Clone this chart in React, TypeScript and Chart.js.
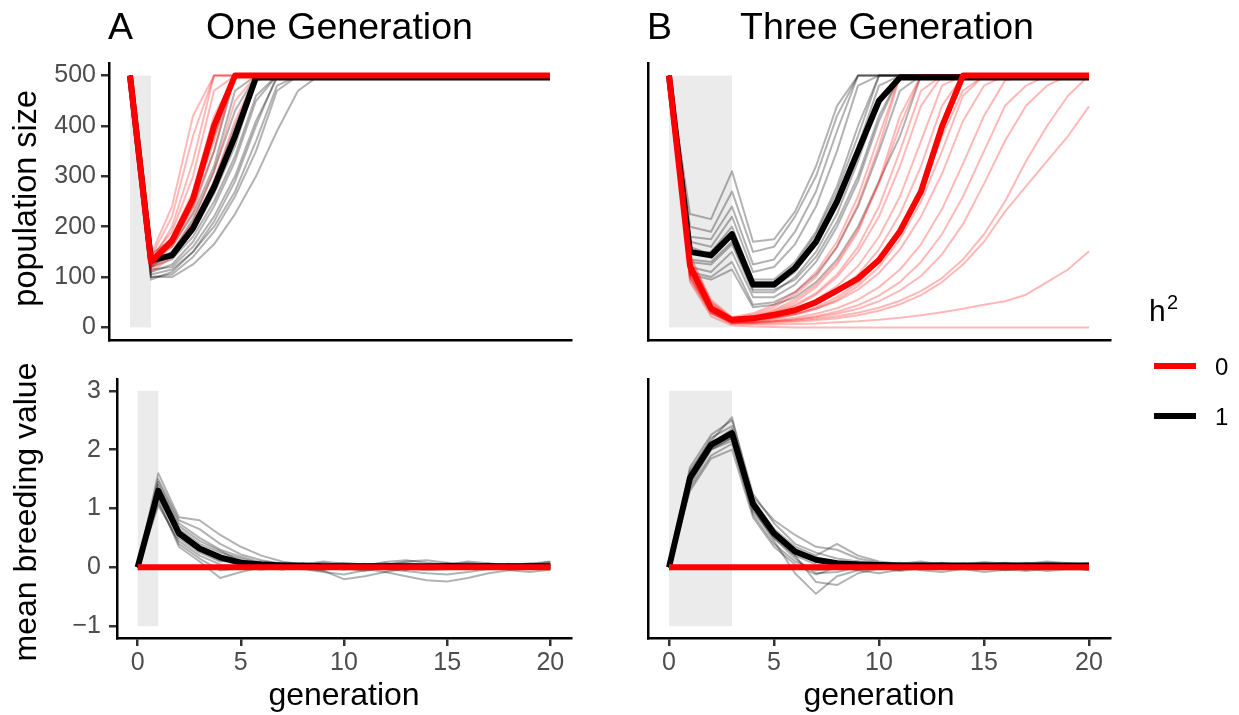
import React, { useEffect, useRef } from "react";
import { Chart, registerables } from "chart.js";

Chart.register(...registerables);

// ---------------- data ----------------
const generations = [0, 1, 2, 3, 4, 5, 6, 7, 8, 9, 10, 11, 12, 13, 14, 15, 16, 17, 18, 19, 20];
const xTickValues = [0, 5, 10, 15, 20];
const popTickValues = [0, 100, 200, 300, 400, 500];
const bvTickValues = [-1, 0, 1, 2, 3];
const shadeOneGeneration = [0, 1];
const shadeThreeGeneration = [0, 3];
const popShadeRange = [0, 500];
const bvShadeRange = [-1, 3];

// Panel A, population size, h2 = 1 (black replicates)
const popOneGenH1Reps = [
  [500, 120, 150, 215, 310, 430, 500, 500, 500, 500, 500, 500, 500, 500, 500, 500, 500, 500, 500, 500, 500],
  [500, 110, 125, 170, 240, 330, 450, 500, 500, 500, 500, 500, 500, 500, 500, 500, 500, 500, 500, 500, 500],
  [500, 140, 160, 225, 320, 470, 500, 500, 500, 500, 500, 500, 500, 500, 500, 500, 500, 500, 500, 500, 500],
  [500, 100, 105, 140, 190, 260, 350, 470, 500, 500, 500, 500, 500, 500, 500, 500, 500, 500, 500, 500, 500],
  [500, 125, 140, 190, 265, 360, 490, 500, 500, 500, 500, 500, 500, 500, 500, 500, 500, 500, 500, 500, 500],
  [500, 95, 110, 150, 210, 290, 400, 500, 500, 500, 500, 500, 500, 500, 500, 500, 500, 500, 500, 500, 500],
  [500, 135, 165, 240, 350, 500, 500, 500, 500, 500, 500, 500, 500, 500, 500, 500, 500, 500, 500, 500, 500],
  [500, 115, 120, 160, 220, 300, 410, 495, 500, 500, 500, 500, 500, 500, 500, 500, 500, 500, 500, 500, 500],
  [500, 130, 150, 205, 290, 400, 500, 500, 500, 500, 500, 500, 500, 500, 500, 500, 500, 500, 500, 500, 500],
  [500, 105, 115, 150, 200, 270, 370, 480, 500, 500, 500, 500, 500, 500, 500, 500, 500, 500, 500, 500, 500],
  [500, 145, 175, 260, 380, 500, 500, 500, 500, 500, 500, 500, 500, 500, 500, 500, 500, 500, 500, 500, 500],
  [500, 120, 135, 180, 250, 340, 460, 500, 500, 500, 500, 500, 500, 500, 500, 500, 500, 500, 500, 500, 500],
  [500, 100, 100, 125, 165, 225, 300, 390, 470, 500, 500, 500, 500, 500, 500, 500, 500, 500, 500, 500, 500],
];
const popOneGenH1Mean = [500, 133, 143, 197, 278, 380, 496, 496, 496, 496, 496, 496, 496, 496, 496, 496, 496, 496, 496, 496, 496];

// Panel A, population size, h2 = 0 (red replicates)
const popOneGenH0Reps = [
  [500, 130, 200, 330, 500, 500, 500, 500, 500, 500, 500, 500, 500, 500, 500, 500, 500, 500, 500, 500, 500],
  [500, 125, 165, 240, 380, 500, 500, 500, 500, 500, 500, 500, 500, 500, 500, 500, 500, 500, 500, 500, 500],
  [500, 140, 220, 380, 500, 500, 500, 500, 500, 500, 500, 500, 500, 500, 500, 500, 500, 500, 500, 500, 500],
  [500, 120, 150, 210, 310, 450, 500, 500, 500, 500, 500, 500, 500, 500, 500, 500, 500, 500, 500, 500, 500],
  [500, 135, 180, 270, 420, 500, 500, 500, 500, 500, 500, 500, 500, 500, 500, 500, 500, 500, 500, 500, 500],
  [500, 115, 145, 200, 290, 410, 500, 500, 500, 500, 500, 500, 500, 500, 500, 500, 500, 500, 500, 500, 500],
  [500, 145, 240, 420, 500, 500, 500, 500, 500, 500, 500, 500, 500, 500, 500, 500, 500, 500, 500, 500, 500],
  [500, 125, 160, 230, 350, 500, 500, 500, 500, 500, 500, 500, 500, 500, 500, 500, 500, 500, 500, 500, 500],
  [500, 130, 175, 260, 400, 500, 500, 500, 500, 500, 500, 500, 500, 500, 500, 500, 500, 500, 500, 500, 500],
  [500, 110, 140, 190, 270, 380, 500, 500, 500, 500, 500, 500, 500, 500, 500, 500, 500, 500, 500, 500, 500],
  [500, 140, 190, 300, 470, 500, 500, 500, 500, 500, 500, 500, 500, 500, 500, 500, 500, 500, 500, 500, 500],
  [500, 120, 170, 250, 370, 500, 500, 500, 500, 500, 500, 500, 500, 500, 500, 500, 500, 500, 500, 500, 500],
];
const popOneGenH0Mean = [500, 130, 172, 255, 400, 500, 500, 500, 500, 500, 500, 500, 500, 500, 500, 500, 500, 500, 500, 500, 500];

// Panel B, population size, h2 = 1 (black replicates)
const popThreeGenH1Reps = [
  [500, 150, 140, 190, 90, 90, 125, 185, 270, 380, 500, 500, 500, 500, 500, 500, 500, 500, 500, 500, 500],
  [500, 120, 110, 150, 60, 60, 85, 130, 200, 290, 410, 500, 500, 500, 500, 500, 500, 500, 500, 500, 500],
  [500, 200, 190, 270, 150, 160, 220, 300, 420, 500, 500, 500, 500, 500, 500, 500, 500, 500, 500, 500, 500],
  [500, 170, 160, 220, 110, 120, 165, 240, 350, 480, 500, 500, 500, 500, 500, 500, 500, 500, 500, 500, 500],
  [500, 130, 125, 165, 70, 70, 100, 150, 225, 330, 450, 500, 500, 500, 500, 500, 500, 500, 500, 500, 500],
  [500, 110, 100, 130, 45, 50, 70, 105, 160, 240, 350, 470, 500, 500, 500, 500, 500, 500, 500, 500, 500],
  [500, 180, 175, 240, 125, 135, 190, 270, 390, 500, 500, 500, 500, 500, 500, 500, 500, 500, 500, 500, 500],
  [500, 145, 150, 200, 95, 95, 130, 190, 280, 400, 500, 500, 500, 500, 500, 500, 500, 500, 500, 500, 500],
  [500, 160, 145, 180, 80, 80, 110, 165, 245, 360, 480, 500, 500, 500, 500, 500, 500, 500, 500, 500, 500],
  [500, 225, 215, 310, 170, 175, 230, 320, 440, 500, 500, 500, 500, 500, 500, 500, 500, 500, 500, 500, 500],
  [500, 135, 130, 170, 75, 75, 95, 140, 210, 300, 420, 500, 500, 500, 500, 500, 500, 500, 500, 500, 500],
  [500, 105, 95, 115, 40, 45, 60, 90, 135, 200, 290, 380, 500, 500, 500, 500, 500, 500, 500, 500, 500],
];
const popThreeGenH1Mean = [500, 150, 143, 185, 85, 85, 118, 170, 250, 350, 450, 496, 496, 496, 496, 496, 496, 496, 496, 496, 496];

// Panel B, population size, h2 = 0 (red replicates)
const popThreeGenH0Reps = [
  [500, 135, 55, 20, 28, 45, 70, 110, 170, 260, 380, 500, 500, 500, 500, 500, 500, 500, 500, 500, 500],
  [500, 120, 45, 18, 25, 40, 65, 100, 160, 245, 360, 500, 500, 500, 500, 500, 500, 500, 500, 500, 500],
  [500, 130, 50, 17, 22, 35, 55, 85, 130, 195, 285, 400, 500, 500, 500, 500, 500, 500, 500, 500, 500],
  [500, 110, 40, 15, 20, 32, 50, 80, 125, 190, 290, 420, 500, 500, 500, 500, 500, 500, 500, 500, 500],
  [500, 125, 42, 14, 18, 28, 42, 65, 100, 150, 220, 320, 440, 500, 500, 500, 500, 500, 500, 500, 500],
  [500, 145, 50, 18, 20, 30, 45, 68, 105, 160, 240, 350, 470, 500, 500, 500, 500, 500, 500, 500, 500],
  [500, 115, 38, 13, 16, 24, 36, 55, 82, 122, 180, 260, 370, 480, 500, 500, 500, 500, 500, 500, 500],
  [500, 105, 35, 12, 14, 20, 30, 46, 70, 105, 155, 225, 320, 440, 500, 500, 500, 500, 500, 500, 500],
  [500, 120, 36, 12, 14, 19, 27, 40, 60, 88, 130, 190, 270, 380, 470, 500, 500, 500, 500, 500, 500],
  [500, 100, 30, 10, 12, 17, 25, 37, 55, 82, 120, 175, 250, 350, 460, 500, 500, 500, 500, 500, 500],
  [500, 130, 40, 14, 15, 19, 26, 37, 52, 75, 108, 155, 220, 305, 410, 480, 500, 500, 500, 500, 500],
  [500, 110, 32, 10, 11, 14, 19, 27, 38, 55, 80, 115, 165, 235, 325, 420, 490, 500, 500, 500, 500],
  [500, 95, 28, 9, 10, 12, 16, 22, 31, 44, 63, 90, 130, 185, 260, 350, 440, 480, 500, 500, 500],
  [500, 125, 34, 10, 10, 12, 15, 20, 27, 37, 52, 73, 102, 145, 205, 285, 370, 440, 480, 500, 500],
  [500, 105, 30, 8, 8, 9, 11, 14, 18, 24, 33, 46, 64, 90, 125, 170, 230, 280, 330, 380, 439],
  [500, 100, 28, 7, 6, 6, 7, 8, 10, 12, 15, 19, 24, 30, 37, 45, 52, 65, 90, 115, 151],
  [500, 90, 22, 4, 2, 1, 0, 0, 0, 0, 0, 0, 0, 0, 0, 0, 0, 0, 0, 0, 0],
  [500, 115, 33, 9, 9, 11, 13, 17, 22, 29, 39, 53, 72, 98, 135, 185, 250, 330, 400, 460, 500],
];
const popThreeGenH0Mean = [500, 122, 38, 15, 18, 25, 34, 50, 73, 97, 134, 191, 270, 399, 500, 500, 500, 500, 500, 500, 500];

// Panel A, mean breeding value, h2 = 1
const bvOneGenH1Reps = [
  [0, 1.25, 0.55, 0.3, 0.15, 0.05, 0.02, 0.05, 0.0, -0.05, 0.02, 0.06, 0.03, -0.02, 0.04, 0.07, 0.02, 0.0, 0.05, 0.03, 0.01],
  [0, 1.45, 0.75, 0.5, 0.3, 0.18, 0.08, 0.02, 0.06, 0.01, -0.04, 0.0, 0.05, 0.08, 0.03, -0.02, 0.01, 0.06, 0.02, 0.04, 0.07],
  [0, 1.1, 0.4, 0.15, -0.05, -0.02, 0.03, -0.04, 0.02, 0.05, -0.02, -0.06, 0.0, 0.04, -0.03, 0.02, 0.05, -0.01, 0.03, 0.0, -0.03],
  [0, 1.6, 0.85, 0.8, 0.55, 0.35, 0.2, 0.1, 0.05, 0.08, 0.03, 0.0, 0.04, 0.1, 0.12, 0.08, 0.04, 0.06, 0.02, 0.05, 0.09],
  [0, 1.2, 0.5, 0.25, 0.1, 0.12, 0.04, 0.0, -0.03, -0.08, -0.12, -0.05, 0.0, -0.04, 0.02, 0.0, -0.02, 0.03, -0.01, 0.02, -0.02],
  [0, 1.35, 0.6, 0.35, 0.2, 0.08, 0.1, 0.06, 0.03, 0.0, 0.05, 0.02, -0.03, -0.06, -0.1, -0.12, -0.08, -0.03, 0.0, -0.02, 0.03],
  [0, 1.15, 0.35, 0.1, -0.18, -0.08, 0.0, 0.05, 0.02, -0.03, 0.0, 0.04, 0.07, 0.03, 0.0, 0.05, 0.08, 0.04, 0.06, 0.02, 0.05],
  [0, 1.5, 0.8, 0.65, 0.4, 0.22, 0.12, 0.06, 0.04, 0.02, -0.02, 0.01, 0.03, 0.0, 0.02, 0.06, 0.03, 0.0, -0.02, 0.01, 0.04],
  [0, 1.3, 0.65, 0.4, 0.25, 0.15, 0.06, 0.03, -0.02, -0.06, -0.2, -0.15, -0.08, -0.02, -0.05, -0.03, 0.0, 0.02, -0.04, -0.02, 0.0],
  [0, 1.05, 0.45, 0.2, 0.05, 0.0, -0.04, 0.02, 0.06, 0.04, 0.08, 0.05, 0.02, 0.0, 0.04, 0.02, -0.02, 0.01, 0.04, 0.07, 0.03],
  [0, 1.4, 0.7, 0.45, 0.28, 0.1, 0.02, 0.08, 0.05, 0.1, 0.06, 0.03, 0.09, 0.12, 0.08, 0.05, 0.1, 0.07, 0.03, 0.06, 0.1],
  [0, 1.25, 0.58, 0.28, 0.12, 0.04, 0.0, -0.02, 0.01, -0.01, 0.02, -0.03, -0.08, -0.15, -0.22, -0.24, -0.18, -0.1, -0.05, -0.08, -0.04],
];
const bvOneGenH1Mean = [0, 1.3, 0.58, 0.32, 0.17, 0.08, 0.05, 0.03, 0.03, 0.02, 0.02, 0.02, 0.02, 0.02, 0.02, 0.02, 0.02, 0.02, 0.02, 0.02, 0.02];

// Panel B, mean breeding value, h2 = 1
const bvThreeGenH1Reps = [
  [0, 1.5, 2.05, 2.25, 1.05, 0.55, 0.25, 0.1, 0.05, 0.02, 0.06, 0.03, 0.0, 0.04, 0.02, 0.05, 0.01, 0.03, 0.06, 0.02, 0.04],
  [0, 1.7, 2.25, 2.5, 1.25, 0.75, 0.4, 0.25, 0.15, 0.1, 0.05, 0.08, 0.04, 0.02, 0.06, 0.03, 0.08, 0.05, 0.02, 0.04, 0.07],
  [0, 1.35, 1.9, 2.1, 0.9, 0.4, 0.1, -0.05, -0.02, 0.03, 0.0, -0.04, 0.02, 0.05, 0.0, -0.03, 0.02, 0.04, -0.02, 0.01, -0.02],
  [0, 1.6, 2.2, 2.4, 1.2, 0.8, 0.55, 0.35, 0.3, 0.15, 0.08, 0.05, 0.07, 0.03, 0.05, 0.09, 0.06, 0.04, 0.08, 0.05, 0.03],
  [0, 1.45, 2.0, 2.2, 1.0, 0.45, -0.1, -0.45, -0.15, -0.05, 0.02, 0.0, -0.03, 0.01, -0.02, 0.02, 0.0, -0.04, 0.01, 0.03, 0.0],
  [0, 1.55, 2.1, 2.3, 1.1, 0.6, 0.3, 0.15, 0.1, 0.05, 0.0, -0.06, -0.02, 0.02, -0.03, -0.08, -0.04, 0.0, -0.02, 0.01, -0.05],
  [0, 1.4, 2.0, 2.15, 0.95, 0.5, 0.15, -0.1, -0.08, 0.0, 0.04, 0.02, 0.05, 0.08, 0.04, 0.0, 0.03, 0.06, 0.1, 0.07, 0.05],
  [0, 1.65, 2.15, 2.55, 1.15, 0.65, 0.35, 0.2, 0.4, 0.2, 0.1, 0.06, 0.03, 0.07, 0.02, 0.05, 0.04, 0.02, 0.05, 0.03, 0.06],
  [0, 1.5, 2.1, 2.35, 1.0, 0.5, 0.2, 0.05, 0.0, -0.05, -0.1, -0.04, 0.0, 0.03, 0.06, 0.02, -0.03, -0.06, -0.02, 0.0, 0.02],
  [0, 1.3, 1.85, 2.0, 0.85, 0.35, 0.05, -0.12, 0.0, 0.05, 0.03, 0.06, 0.1, 0.05, 0.02, 0.0, 0.04, 0.08, 0.03, 0.06, 0.04],
  [0, 1.58, 2.12, 2.28, 1.1, 0.62, 0.3, 0.12, 0.06, 0.1, 0.07, 0.03, 0.06, 0.02, 0.0, 0.04, 0.07, 0.03, 0.0, -0.03, 0.02],
  [0, 1.48, 2.02, 2.2, 1.05, 0.55, 0.2, -0.25, -0.3, -0.1, -0.02, 0.02, -0.05, -0.08, -0.03, 0.0, -0.05, -0.02, -0.06, -0.03, -0.04],
];
const bvThreeGenH1Mean = [0, 1.52, 2.08, 2.28, 1.08, 0.58, 0.27, 0.13, 0.07, 0.05, 0.04, 0.03, 0.03, 0.03, 0.03, 0.03, 0.03, 0.03, 0.03, 0.03, 0.03];

// h2 = 0: breeding value stays at zero
const bvH0Mean = [0, 0, 0, 0, 0, 0, 0, 0, 0, 0, 0, 0, 0, 0, 0, 0, 0, 0, 0, 0, 0];

// ---------------- styling ----------------
const FONT = '"Liberation Sans", Arial, Helvetica, sans-serif';
const RED = "#FF0000";
const BLACK = "#000000";
const THIN_RED = "rgba(255,0,0,0.28)";
const THIN_BLACK = "rgba(0,0,0,0.3)";
const SHADE = "#EBEBEB";
const THIN_W = 2;
const THICK_W = 6;

type PanelSpec = {
  left: number;
  top: number;
  w: number;
  h: number;
  padTop: number;
  padRight: number;
  yAxisWidth: number;
  xAxisHeight: number;
  yMin: number;
  yMax: number;
  yTicks: number[];
  showY: boolean;
  showX: boolean;
  yTickPad: number;
  shadeX: number[];
  shadeY: number[];
  thinBlack: number[][];
  thinRed: number[][];
  meanBlack: number[];
  meanRed: number[];
};

const shadePlugin = {
  id: "shadeBox",
  beforeDatasetsDraw(chart: any, _args: any, opts: any) {
    const { ctx, scales } = chart;
    const x = scales.x;
    const y = scales.y;
    const x0 = x.getPixelForValue(opts.x[0]);
    const x1 = x.getPixelForValue(opts.x[1]);
    const y0 = y.getPixelForValue(opts.y[1]);
    const y1 = y.getPixelForValue(opts.y[0]);
    ctx.save();
    ctx.fillStyle = opts.color;
    ctx.fillRect(x0, y0, x1 - x0, y1 - y0);
    ctx.restore();
  },
};

const toPoints = (vals: number[]) => vals.map((v, i) => ({ x: generations[i], y: v }));

function buildConfig(s: PanelSpec): any {
  const common = {
    pointRadius: 0,
    pointHoverRadius: 0,
    tension: 0,
    fill: false,
    borderJoinStyle: "round",
    borderCapStyle: "butt",
  };
  const datasets: any[] = [
    ...s.thinBlack.map((v) => ({ ...common, data: toPoints(v), borderColor: THIN_BLACK, borderWidth: THIN_W, order: 3 })),
    ...s.thinRed.map((v) => ({ ...common, data: toPoints(v), borderColor: THIN_RED, borderWidth: THIN_W, order: 2 })),
    { ...common, data: toPoints(s.meanBlack), borderColor: BLACK, borderWidth: THICK_W, order: 1 },
    { ...common, data: toPoints(s.meanRed), borderColor: RED, borderWidth: THICK_W, order: 0 },
  ];
  const tickFont = { family: FONT, size: 25 };
  return {
    type: "line",
    data: { datasets },
    plugins: [shadePlugin],
    options: {
      responsive: false,
      animation: false,
      devicePixelRatio: 1,
      events: [],
      layout: { padding: { left: 0, top: s.padTop, right: s.padRight, bottom: 0 } },
      plugins: {
        legend: { display: false },
        tooltip: { enabled: false },
        shadeBox: { x: s.shadeX, y: s.shadeY, color: SHADE },
      },
      scales: {
        x: {
          type: "linear",
          min: -1,
          max: 21,
          afterBuildTicks: (axis: any) => {
            axis.ticks = xTickValues.map((v) => ({ value: v }));
          },
          afterFit: (axis: any) => {
            axis.height = s.xAxisHeight;
          },
          grid: {
            display: s.showX,
            drawOnChartArea: false,
            drawTicks: true,
            tickLength: 8,
            tickColor: "#333333",
            tickWidth: 2.5,
            lineWidth: 2.5,
            color: "#333333",
          },
          border: { display: true, color: BLACK, width: 2.5 },
          ticks: {
            display: s.showX,
            padding: 2,
            color: "#4D4D4D",
            font: tickFont,
            autoSkip: false,
            maxRotation: 0,
            callback: (v: any) => String(v),
          },
        },
        y: {
          type: "linear",
          min: s.yMin,
          max: s.yMax,
          afterBuildTicks: (axis: any) => {
            axis.ticks = s.yTicks.map((v) => ({ value: v }));
          },
          afterFit: (axis: any) => {
            axis.width = s.yAxisWidth;
          },
          grid: {
            display: s.showY,
            drawOnChartArea: false,
            drawTicks: true,
            tickLength: 8,
            tickColor: "#333333",
            tickWidth: 2.5,
            lineWidth: 2.5,
            color: "#333333",
          },
          border: { display: true, color: BLACK, width: 2.5 },
          ticks: {
            display: s.showY,
            padding: s.yTickPad,
            color: "#4D4D4D",
            font: tickFont,
            autoSkip: false,
            callback: (v: any) => (v < 0 ? "\u2212" + Math.abs(v) : String(v)),
          },
        },
      },
    },
  };
}

function Panel({ spec }: { spec: PanelSpec }) {
  const ref = useRef<HTMLCanvasElement | null>(null);
  useEffect(() => {
    if (!ref.current) return;
    const chart = new Chart(ref.current, buildConfig(spec));
    return () => chart.destroy();
  }, []);
  return (
    <canvas
      ref={ref}
      width={spec.w}
      height={spec.h}
      style={{ position: "absolute", left: spec.left, top: spec.top, width: spec.w, height: spec.h }}
    />
  );
}

// chart areas: A-top 109..571 x 63..340, A-bottom 117..571 x 379..638,
// B-top 648..1110 x 63..340, B-bottom 648..1110 x 379..638
const panels: PanelSpec[] = [
  {
    left: 34, top: 33, w: 562, h: 337, padTop: 30, padRight: 25, yAxisWidth: 75, xAxisHeight: 30,
    yMin: -25, yMax: 525, yTicks: popTickValues, showY: true, showX: false, yTickPad: 5,
    shadeX: shadeOneGeneration, shadeY: popShadeRange,
    thinBlack: popOneGenH1Reps, thinRed: popOneGenH0Reps, meanBlack: popOneGenH1Mean, meanRed: popOneGenH0Mean,
  },
  {
    left: 573, top: 33, w: 562, h: 337, padTop: 30, padRight: 25, yAxisWidth: 75, xAxisHeight: 30,
    yMin: -25, yMax: 525, yTicks: popTickValues, showY: false, showX: false, yTickPad: 5,
    shadeX: shadeThreeGeneration, shadeY: popShadeRange,
    thinBlack: popThreeGenH1Reps, thinRed: popThreeGenH0Reps, meanBlack: popThreeGenH1Mean, meanRed: popThreeGenH0Mean,
  },
  {
    left: 42, top: 349, w: 554, h: 339, padTop: 30, padRight: 25, yAxisWidth: 75, xAxisHeight: 50,
    yMin: -1.2, yMax: 3.2, yTicks: bvTickValues, showY: true, showX: true, yTickPad: 8,
    shadeX: shadeOneGeneration, shadeY: bvShadeRange,
    thinBlack: bvOneGenH1Reps, thinRed: [], meanBlack: bvOneGenH1Mean, meanRed: bvH0Mean,
  },
  {
    left: 573, top: 349, w: 562, h: 339, padTop: 30, padRight: 25, yAxisWidth: 75, xAxisHeight: 50,
    yMin: -1.2, yMax: 3.2, yTicks: bvTickValues, showY: false, showX: true, yTickPad: 8,
    shadeX: shadeThreeGeneration, shadeY: bvShadeRange,
    thinBlack: bvThreeGenH1Reps, thinRed: [], meanBlack: bvThreeGenH1Mean, meanRed: bvH0Mean,
  },
];

// text placed by baseline (Liberation Sans: baseline at 0.8465em with line-height 1)
function Label({ text, x, baseline, size, color = "#000", align = "left" }: any) {
  const top = baseline - 0.8465 * size;
  const style: any = {
    position: "absolute",
    top,
    fontSize: size,
    lineHeight: size + "px",
    color,
    whiteSpace: "nowrap",
    fontFamily: FONT,
  };
  if (align === "center") {
    style.left = x - 300;
    style.width = 600;
    style.textAlign = "center";
  } else {
    style.left = x;
  }
  return <div style={style}>{text}</div>;
}

function VLabel({ text, cx, cy, size }: any) {
  return (
    <div
      style={{
        position: "absolute",
        left: cx - 250,
        top: cy - size / 2,
        width: 500,
        height: size,
        lineHeight: size + "px",
        fontSize: size,
        textAlign: "center",
        transform: "rotate(-90deg)",
        whiteSpace: "nowrap",
        fontFamily: FONT,
        color: "#000",
      }}
    >
      {text}
    </div>
  );
}

export default function App() {
  return (
    <div
      style={{
        position: "fixed",
        left: 0,
        top: 0,
        width: 1239,
        height: 715,
        background: "#FFFFFF",
        overflow: "hidden",
        fontFamily: FONT,
      }}
    >
      {panels.map((p, i) => (
        <Panel key={i} spec={p} />
      ))}

      <Label text="A" x={108} baseline={40} size={37.5} />
      <Label text="One Generation" x={206} baseline={40} size={37.5} />
      <Label text="B" x={647} baseline={40} size={37.5} />
      <Label text="Three Generation" x={740} baseline={40} size={37.5} />

      <VLabel text="population size" cx={25} cy={198} size={32.5} />
      <VLabel text="mean breeding value" cx={25} cy={512} size={32} />

      <Label text="generation" x={344} baseline={705} size={32} align="center" />
      <Label text="generation" x={879} baseline={705} size={32} align="center" />

      {/* legend */}
      <Label text="h" x={1149} baseline={321.7} size={30} />
      <Label text="2" x={1167} baseline={309} size={20} />
      <div style={{ position: "absolute", left: 1154, top: 363, width: 42, height: 6, background: RED }} />
      <Label text="0" x={1215} baseline={375} size={24} />
      <div style={{ position: "absolute", left: 1154, top: 413, width: 42, height: 6, background: BLACK }} />
      <Label text="1" x={1215} baseline={425} size={24} />
    </div>
  );
}
